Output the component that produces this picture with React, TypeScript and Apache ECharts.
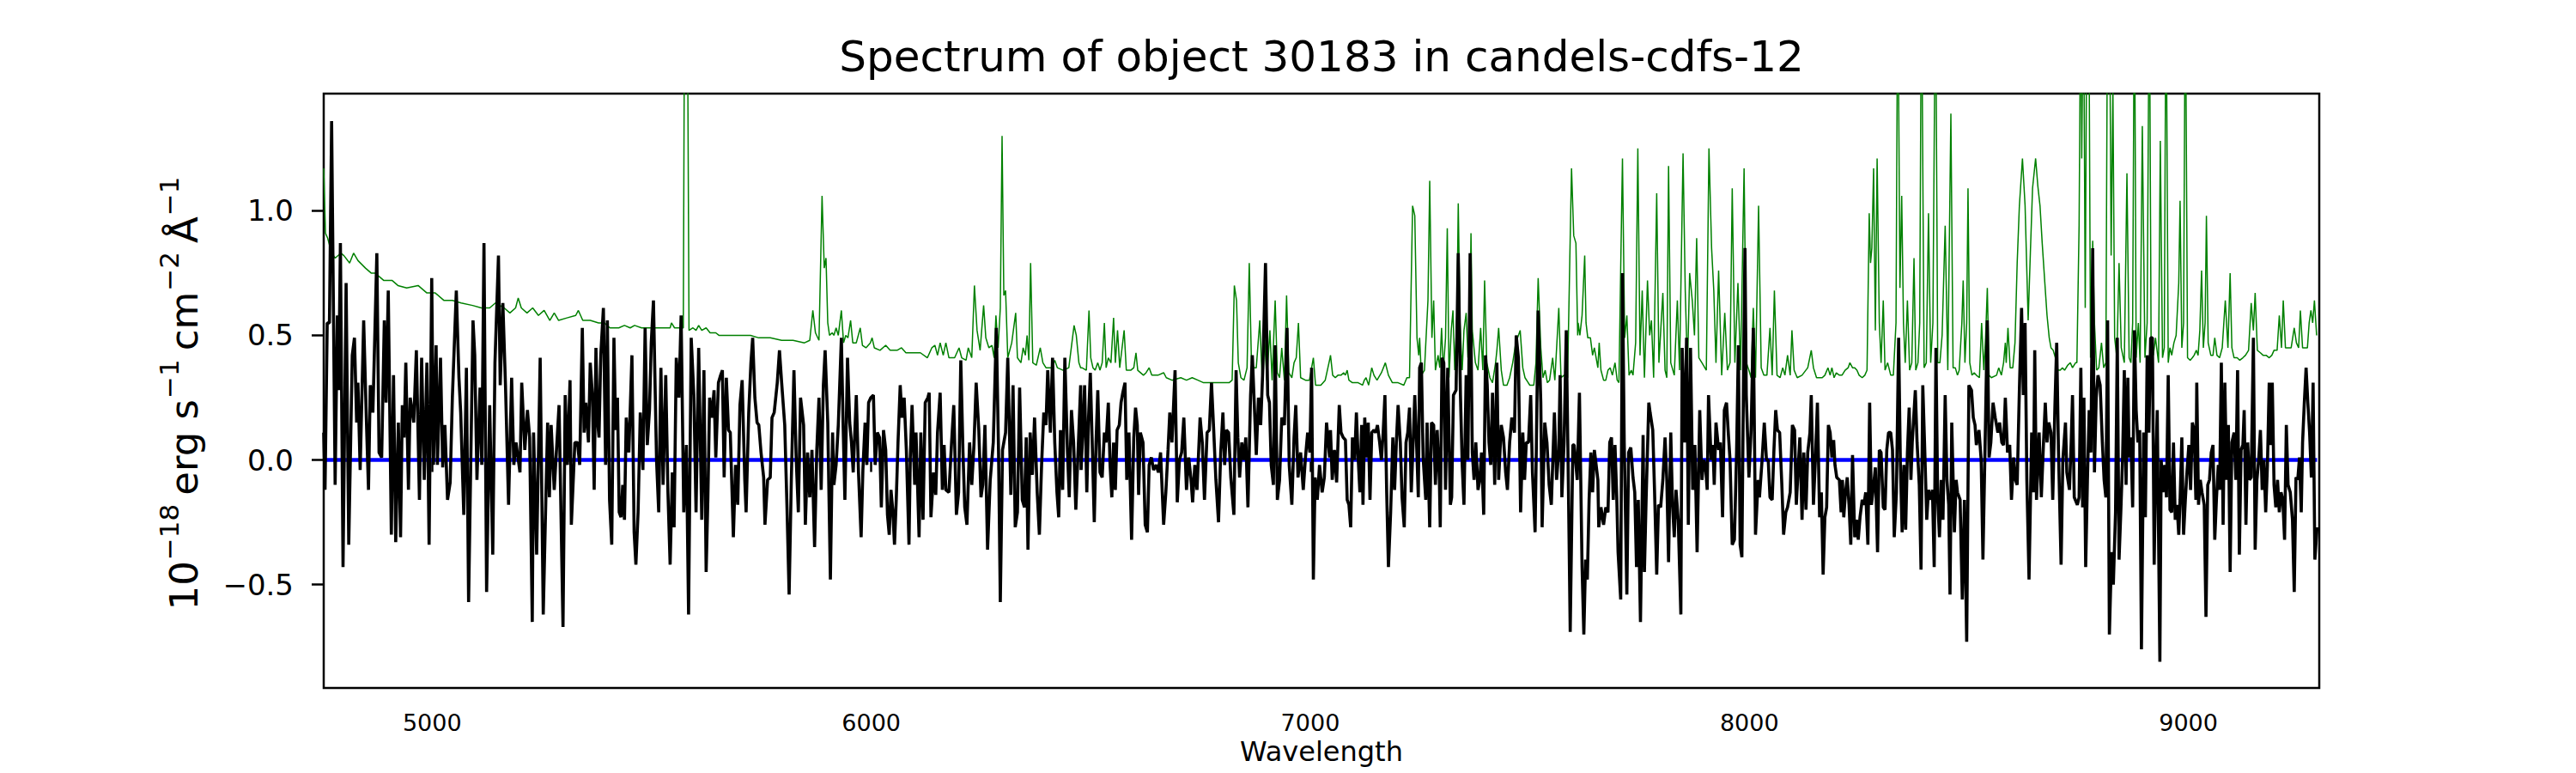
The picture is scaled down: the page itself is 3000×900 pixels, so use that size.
import React, { useEffect, useRef } from "react";
import * as echarts from "echarts";

// ---- data (wavelength in Å, flux in 1e-18 erg/s/cm2/Å) ----
const chartTitle = "Spectrum of object 30183 in candels-cdfs-12";
const xTicks = [5000, 6000, 7000, 8000, 9000];
const yTicks = [-0.5, 0, 0.5, 1.0];
const xRange = [4753, 9298];
const yRange = [-0.915, 1.47];
const zeroLine: [number, number][] = [[4753, 0], [9293, 0]];

const fluxSeg1: [number, number][] = [
  [4753, 0.11], [4756, -0.12], [4761, 0.55], [4766, 0.55], [4771, 1.36], [4779, -0.1], [4784, 0.58], [4787, 0.28], [4791, 0.87], [4797, -0.43],
  [4804, 0.71], [4810, -0.34], [4818, 0.42], [4823, 0.49], [4828, 0.15], [4831, 0.31], [4836, -0.04], [4844, 0.56], [4850, 0.17], [4855, -0.12],
  [4859, 0.3], [4865, 0.19], [4874, 0.83], [4879, 0.03], [4885, 0.01], [4891, 0.56], [4895, 0.23], [4900, 0.68], [4907, -0.3], [4912, 0.34],
  [4917, -0.33], [4923, 0.15], [4928, -0.31], [4932, 0.22], [4936, 0.09], [4940, 0.39], [4946, -0.12], [4950, 0.25], [4958, 0.15], [4964, 0.44],
  [4971, -0.16], [4976, 0.41], [4982, -0.08], [4988, 0.39], [4993, -0.34], [4999, 0.73], [5003, -0.02], [5009, 0.46], [5012, -0.02], [5019, 0.41],
  [5024, -0.03], [5029, 0.14], [5035, -0.16], [5041, -0.09], [5046, 0.25], [5055, 0.68], [5061, 0.33], [5065, 0.19], [5072, -0.22], [5078, 0.37],
  [5083, -0.57], [5088, 0.0], [5093, 0.56], [5097, 0.42], [5102, -0.08], [5109, 0.29], [5113, -0.02], [5118, 0.87], [5124, -0.53], [5131, 0.22],
  [5138, -0.38], [5143, 0.39], [5151, 0.82], [5155, 0.3], [5161, 0.63], [5167, 0.3], [5174, -0.18], [5181, 0.33], [5186, -0.02], [5191, 0.07],
  [5200, -0.05], [5204, 0.31], [5211, 0.04], [5217, 0.2], [5222, 0.09], [5228, -0.65], [5231, 0.11], [5238, -0.38], [5246, 0.41], [5253, -0.62],
  [5259, -0.15], [5263, 0.15], [5267, -0.15], [5271, 0.14], [5278, -0.12], [5289, 0.22], [5298, -0.67], [5303, 0.26], [5308, -0.02], [5314, 0.32],
  [5317, -0.26], [5325, 0.07], [5331, 0.07], [5336, -0.02], [5342, 0.53], [5346, 0.11],
];
const fluxSeg2: [number, number][] = [
  [5350, 0.23], [5356, 0.07], [5360, 0.39], [5365, 0.26], [5369, -0.12], [5373, 0.45], [5377, 0.15], [5380, 0.09], [5384, 0.42], [5390, 0.61],
  [5395, -0.02], [5399, 0.56], [5404, -0.16], [5409, -0.34], [5414, 0.49], [5418, 0.12], [5422, 0.25], [5426, -0.21], [5430, -0.23], [5434, -0.1],
  [5438, -0.24], [5442, 0.17], [5448, 0.03], [5455, 0.42], [5460, -0.29], [5464, -0.42], [5469, -0.21], [5474, 0.19], [5480, -0.04], [5485, 0.53],
  [5490, 0.06], [5495, 0.2], [5499, 0.47], [5504, 0.64], [5511, 0.0], [5516, -0.21], [5521, 0.37], [5526, -0.1], [5532, 0.34], [5537, -0.13],
  [5542, -0.42], [5547, -0.05], [5551, -0.27], [5556, 0.41], [5562, 0.25], [5567, 0.58], [5573, -0.21], [5579, 0.06], [5584, -0.62], [5590, 0.49],
  [5596, 0.26], [5601, -0.21], [5607, 0.45], [5614, -0.24], [5619, 0.36], [5624, -0.45], [5628, -0.15], [5632, 0.25], [5637, 0.17], [5642, 0.28],
  [5646, 0.01], [5652, 0.31], [5657, 0.34], [5661, 0.36], [5665, -0.07], [5670, 0.33], [5675, 0.12], [5679, 0.11], [5686, -0.31], [5691, -0.02],
  [5696, -0.18], [5701, 0.22], [5706, 0.32], [5712, -0.08], [5715, -0.21], [5721, 0.19], [5726, 0.39], [5730, 0.49], [5735, 0.25], [5740, 0.15],
  [5744, 0.14], [5749, 0.03], [5755, -0.07], [5758, -0.26], [5764, -0.08], [5770, -0.07], [5774, 0.17], [5779, 0.19], [5786, 0.31], [5791, 0.44],
  [5796, 0.31], [5803, 0.14], [5808, -0.18], [5813, -0.54], [5818, -0.08], [5824, 0.36], [5829, 0.01], [5834, -0.21], [5839, 0.25], [5846, 0.14],
  [5850, -0.26], [5855, 0.03], [5860, -0.15], [5865, 0.04], [5871, -0.35], [5876, 0.04], [5881, 0.25], [5886, -0.12], [5891, 0.3], [5895, 0.44],
  [5901, 0.15], [5907, -0.48], [5912, 0.11],
];
const fluxSeg3: [number, number][] = [
  [5915, -0.1], [5920, -0.02], [5925, 0.14], [5932, 0.49], [5936, 0.14], [5940, -0.16], [5946, 0.41], [5951, 0.15], [5955, 0.07], [5959, -0.05],
  [5966, 0.26], [5971, -0.05], [5977, -0.31], [5981, -0.04], [5986, 0.15], [5990, -0.02], [5994, 0.23], [5999, 0.25], [6005, 0.26], [6009, -0.02],
  [6014, 0.11], [6019, 0.09], [6023, -0.19], [6028, 0.12], [6033, 0.04], [6037, -0.22], [6041, -0.3], [6045, -0.12], [6049, -0.2], [6053, -0.34],
  [6057, -0.16], [6061, 0.07], [6066, 0.3], [6070, 0.17], [6075, 0.25], [6080, 0.04], [6086, -0.34], [6089, 0.01], [6093, 0.22], [6099, -0.1],
  [6102, 0.11], [6109, -0.31], [6113, 0.11], [6118, -0.24], [6123, 0.23], [6129, 0.25], [6132, 0.27], [6136, -0.23], [6142, -0.05], [6147, -0.14],
  [6151, 0.11], [6157, 0.27], [6162, -0.12], [6166, 0.06], [6170, -0.12], [6177, -0.13], [6183, 0.07], [6188, 0.22], [6194, -0.22], [6199, -0.13],
  [6204, 0.4], [6209, 0.03], [6213, -0.19], [6218, -0.26], [6224, 0.07], [6229, -0.1], [6234, 0.06], [6239, 0.31], [6245, 0.12], [6250, -0.15],
  [6254, -0.1], [6259, 0.14], [6265, -0.36], [6271, -0.08], [6278, 0.07], [6285, 0.53], [6290, 0.03], [6294, -0.57], [6299, 0.04], [6306, 0.11],
  [6311, 0.41], [6318, -0.14], [6323, 0.3], [6328, -0.27], [6333, -0.21], [6338, 0.29], [6344, -0.16], [6349, -0.19], [6353, 0.09], [6357, -0.36],
  [6362, 0.11], [6367, -0.06], [6372, 0.17], [6378, -0.13], [6383, -0.3], [6388, -0.02], [6393, 0.19], [6398, 0.14], [6402, 0.36], [6408, 0.11],
  [6413, 0.41], [6418, 0.07], [6423, -0.13], [6427, -0.23], [6431, 0.12], [6436, -0.12], [6441, 0.41], [6447, 0.03], [6451, -0.15], [6456, 0.2],
  [6461, 0.07], [6466, -0.2], [6471, 0.03], [6477, 0.3],
];
const fluxSeg4: [number, number][] = [
  [6478, -0.04], [6482, 0.12], [6486, 0.3], [6491, -0.13], [6495, 0.17], [6499, 0.35], [6503, 0.09], [6508, -0.25], [6512, 0.07], [6516, 0.28],
  [6521, -0.05], [6526, -0.07], [6531, 0.11], [6535, 0.07], [6540, 0.23], [6544, -0.02], [6548, -0.15], [6552, 0.07], [6556, -0.12], [6560, 0.12],
  [6565, 0.14], [6569, 0.23], [6573, 0.27], [6578, 0.31], [6582, -0.08], [6587, 0.11], [6593, -0.32], [6598, 0.09], [6602, 0.21], [6606, 0.14],
  [6609, -0.14], [6613, 0.11], [6619, 0.07], [6624, -0.26], [6629, -0.29], [6633, -0.02], [6638, 0.01], [6643, -0.04], [6649, -0.02], [6654, -0.05],
  [6659, 0.03], [6666, -0.26], [6671, -0.13], [6676, 0.04], [6680, 0.19], [6685, 0.07], [6692, 0.36], [6697, -0.17], [6702, 0.0], [6707, 0.03],
  [6712, 0.17], [6718, -0.12], [6723, 0.01], [6728, -0.07], [6732, -0.17], [6737, -0.02], [6742, -0.12], [6749, 0.17], [6754, 0.07], [6759, -0.16],
  [6765, 0.11], [6770, 0.12], [6775, 0.31], [6780, 0.12], [6785, -0.08], [6791, -0.25], [6796, 0.03], [6801, 0.19], [6805, -0.02], [6809, 0.12],
  [6814, 0.11], [6819, -0.07], [6826, -0.22], [6831, 0.36], [6835, 0.09], [6839, -0.07], [6844, 0.07], [6849, 0.0], [6853, 0.09], [6858, -0.19],
  [6864, 0.26], [6868, 0.42], [6873, 0.2], [6877, 0.02], [6882, 0.25], [6887, 0.14], [6892, 0.37], [6898, 0.79], [6903, 0.26], [6907, 0.23],
  [6911, -0.02], [6916, -0.1], [6920, 0.46], [6925, -0.16], [6930, -0.08], [6935, 0.17], [6941, 0.14], [6947, 0.53], [6952, -0.02], [6958, -0.18],
  [6963, 0.09], [6967, 0.22], [6972, -0.07], [6978, 0.03], [6984, -0.12], [6989, 0.01], [6994, 0.11], [6999, 0.03], [7003, 0.37], [7007, -0.48],
  [7011, -0.07], [7016, -0.16], [7021, -0.02], [7027, -0.13], [7032, -0.07], [7037, 0.15], [7044, 0.01],
];
const fluxSeg5: [number, number][] = [
  [7046, 0.12], [7050, -0.08], [7055, 0.04], [7060, -0.09], [7066, 0.22], [7070, 0.11], [7075, 0.09], [7080, 0.08], [7084, -0.16], [7088, -0.18],
  [7092, -0.27], [7096, 0.09], [7101, 0.0], [7105, 0.19], [7109, 0.01], [7113, -0.13], [7117, 0.14], [7120, -0.18], [7124, 0.17], [7128, 0.01],
  [7132, 0.15], [7136, -0.16], [7140, 0.11], [7145, 0.12], [7149, 0.11], [7153, 0.14], [7158, 0.07], [7162, 0.0], [7166, 0.11], [7170, 0.26],
  [7174, -0.13], [7178, -0.43], [7183, -0.21], [7188, 0.09], [7192, -0.12], [7196, 0.07], [7200, 0.22], [7205, 0.07], [7209, -0.15], [7214, -0.27],
  [7218, 0.07], [7222, 0.11], [7226, 0.21], [7230, -0.13], [7234, 0.06], [7238, 0.26], [7242, 0.07], [7246, -0.15], [7249, 0.37], [7253, 0.39],
  [7257, 0.01], [7263, -0.16], [7266, 0.15], [7272, -0.27], [7276, 0.15], [7281, 0.14], [7285, -0.1], [7289, 0.12], [7294, -0.08], [7296, -0.27],
  [7300, 0.41], [7304, 0.39], [7308, -0.12], [7313, 0.37], [7319, -0.18], [7322, -0.15], [7326, 0.26], [7332, 0.28], [7337, 0.83], [7342, 0.26],
  [7346, -0.02], [7350, -0.18], [7355, 0.34], [7359, 0.0], [7364, 0.83], [7369, 0.03], [7373, -0.08], [7377, 0.07], [7382, -0.12], [7386, -0.08],
  [7390, 0.03], [7395, -0.22], [7399, 0.42], [7403, 0.3], [7407, 0.07], [7411, -0.02], [7415, 0.27], [7420, -0.1], [7425, 0.39], [7429, -0.08],
  [7435, 0.14], [7440, 0.09], [7445, -0.05], [7449, -0.12], [7454, 0.07], [7459, 0.17], [7465, 0.11], [7469, 0.5], [7474, 0.41], [7479, -0.21],
  [7484, 0.11], [7488, -0.08], [7492, 0.07], [7497, 0.07], [7502, 0.26], [7506, -0.05], [7512, -0.29], [7515, 0.07], [7519, 0.6], [7525, 0.23],
  [7528, -0.27], [7534, 0.15], [7539, 0.07], [7544, -0.1], [7549, -0.18], [7556, 0.19], [7561, -0.08], [7566, 0.04], [7569, 0.34], [7573, -0.15],
  [7578, 0.07], [7583, 0.52], [7588, -0.12], [7592, -0.69], [7598, 0.06], [7601, 0.06], [7608, -0.08], [7613, 0.27],
];
const fluxSeg6: [number, number][] = [
  [7619, -0.43], [7623, -0.7], [7627, -0.4], [7631, -0.48], [7635, -0.16], [7639, 0.03], [7643, -0.13], [7647, 0.04], [7651, -0.02], [7655, -0.08],
  [7657, -0.27], [7662, -0.19], [7668, -0.26], [7673, -0.19], [7678, -0.21], [7682, 0.07], [7686, 0.09], [7690, -0.16], [7694, 0.06], [7698, -0.15],
  [7701, -0.37], [7707, -0.56], [7711, 0.75], [7715, 0.07], [7721, -0.54], [7725, 0.03], [7730, 0.05], [7735, -0.07], [7739, -0.13], [7743, -0.43],
  [7747, -0.16], [7752, -0.65], [7758, 0.1], [7761, -0.45], [7765, -0.15], [7771, 0.23], [7774, 0.19], [7780, 0.12], [7784, -0.12], [7789, -0.46],
  [7793, -0.18], [7798, -0.19], [7803, -0.08], [7808, 0.09], [7812, -0.08], [7816, -0.41], [7821, 0.11], [7825, -0.18], [7829, -0.31], [7833, -0.12],
  [7838, -0.24], [7844, -0.62], [7847, 0.45], [7853, 0.07], [7857, 0.49], [7861, -0.26], [7866, 0.45], [7871, -0.12], [7876, 0.06], [7881, -0.37],
  [7887, 0.2], [7892, -0.08], [7896, 0.0], [7900, -0.02], [7904, -0.12], [7907, 0.26], [7913, 0.0], [7917, 0.06], [7920, -0.1], [7924, 0.15],
  [7930, 0.04], [7934, 0.07], [7939, -0.23], [7943, 0.2], [7948, 0.23], [7952, 0.11], [7956, 0.0], [7961, -0.34], [7966, -0.32], [7971, 0.04],
  [7975, 0.46], [7979, -0.34], [7983, -0.39], [7987, 0.39], [7990, 0.85], [7993, 0.26], [7999, -0.07], [8004, 0.12], [8009, 0.53], [8014, -0.3],
  [8020, -0.08], [8023, -0.15], [8029, 0.0], [8034, 0.15], [8039, 0.0], [8043, 0.0], [8047, -0.15], [8052, -0.16], [8056, 0.04], [8060, 0.2],
  [8064, 0.12], [8069, 0.11], [8074, -0.1], [8078, -0.3], [8083, -0.21], [8087, -0.19], [8093, -0.13], [8098, 0.14], [8103, 0.12], [8107, -0.18],
  [8111, -0.04], [8115, 0.09], [8120, -0.24], [8124, 0.03], [8129, -0.2], [8133, 0.03], [8138, 0.11], [8141, 0.26], [8146, -0.18], [8151, 0.03],
  [8155, 0.23], [8160, -0.23], [8164, -0.13], [8168, -0.46], [8172, -0.23],
];
const fluxSeg7: [number, number][] = [
  [8176, -0.19], [8180, 0.14], [8184, 0.11], [8188, 0.01], [8192, 0.08], [8195, -0.02], [8199, -0.07], [8205, -0.08], [8209, -0.21], [8212, -0.08],
  [8215, -0.23], [8219, -0.13], [8223, -0.07], [8227, -0.18], [8231, -0.34], [8235, 0.02], [8240, -0.31], [8244, -0.24], [8248, -0.32], [8252, -0.23],
  [8257, -0.16], [8261, -0.18], [8265, -0.13], [8270, -0.34], [8274, 0.23], [8278, -0.18], [8282, -0.12], [8287, -0.03], [8292, -0.37], [8296, 0.04],
  [8300, 0.03], [8305, -0.19], [8309, -0.2], [8313, 0.04], [8317, 0.11], [8322, 0.11], [8326, 0.04], [8330, -0.31], [8335, -0.13], [8340, 0.49],
  [8344, -0.02], [8348, -0.29], [8352, -0.02], [8356, -0.28], [8360, 0.03], [8364, 0.21], [8368, -0.08], [8371, 0.07], [8378, 0.28], [8382, 0.07],
  [8387, -0.1], [8391, -0.44], [8395, 0.3], [8400, 0.01], [8404, -0.24], [8408, -0.12], [8413, -0.16], [8417, -0.12], [8421, -0.43], [8425, 0.45],
  [8429, -0.16], [8433, -0.31], [8437, -0.08], [8441, -0.24], [8446, 0.26], [8450, -0.08], [8454, -0.18], [8457, -0.54], [8461, 0.15], [8467, -0.29],
  [8471, -0.08], [8474, -0.13], [8480, -0.16], [8485, -0.56], [8490, -0.16], [8495, -0.73], [8500, 0.3], [8506, 0.28], [8510, 0.17], [8514, 0.14],
  [8517, 0.06], [8523, 0.12], [8528, 0.0], [8532, -0.4], [8537, 0.07], [8542, 0.56], [8546, 0.01], [8550, 0.07], [8555, 0.23], [8560, 0.17],
  [8566, 0.11], [8570, 0.15], [8575, 0.07], [8579, 0.06], [8583, 0.25], [8588, 0.03], [8593, 0.06], [8597, -0.16], [8602, 0.01], [8606, -0.08],
  [8610, -0.1], [8615, 0.28], [8620, 0.61], [8624, 0.26], [8628, 0.55], [8632, -0.08], [8637, -0.48], [8643, 0.11], [8647, -0.13], [8650, 0.44],
  [8654, -0.16], [8660, 0.11], [8665, -0.15], [8670, 0.07], [8674, 0.23], [8678, 0.07], [8682, 0.15], [8687, 0.11], [8691, -0.16], [8696, 0.22],
  [8700, 0.47], [8704, 0.04], [8710, -0.42], [8714, 0.0], [8720, 0.15], [8723, -0.05], [8729, -0.12], [8733, 0.07], [8736, 0.26], [8740, -0.15],
];
const fluxSeg8: [number, number][] = [
  [8747, -0.18], [8751, -0.15], [8755, 0.37], [8759, -0.19], [8762, 0.25], [8766, -0.43], [8770, -0.08], [8774, 0.2], [8778, 0.03], [8782, 0.85],
  [8786, -0.05], [8790, 0.25], [8794, 0.34], [8799, 0.3], [8804, 0.07], [8808, -0.08], [8812, -0.15], [8816, 0.56], [8820, -0.7], [8825, -0.37],
  [8829, -0.5], [8834, -0.21], [8838, 0.49], [8842, -0.4], [8846, -0.21], [8850, 0.0], [8854, 0.36], [8858, -0.1], [8862, 0.33], [8865, 0.01],
  [8869, 0.09], [8873, -0.19], [8877, 0.52], [8881, 0.2], [8885, 0.07], [8889, 0.12], [8893, -0.76], [8898, 0.11], [8902, -0.23], [8906, 0.42],
  [8910, 0.11], [8914, 0.49], [8918, 0.49], [8922, -0.42], [8925, -0.08], [8929, 0.2], [8935, -0.81], [8938, 0.0], [8942, -0.13], [8946, -0.02],
  [8950, -0.15], [8954, 0.34], [8958, -0.2], [8962, -0.21], [8966, 0.07], [8970, -0.24], [8974, -0.18], [8978, -0.3], [8981, -0.16], [8985, 0.09],
  [8989, -0.3], [8993, -0.16], [8997, -0.04], [9001, 0.06], [9005, -0.12], [9009, 0.15], [9013, 0.12], [9017, -0.16], [9019, 0.31], [9023, -0.18],
  [9027, -0.08], [9031, -0.13], [9036, -0.18], [9040, -0.63], [9044, -0.1], [9048, -0.08], [9052, 0.03], [9056, 0.06], [9060, -0.32], [9064, -0.15],
  [9068, -0.02], [9071, -0.12], [9075, 0.39], [9079, -0.26], [9083, 0.31], [9087, -0.08], [9091, 0.14], [9095, -0.45], [9099, 0.07], [9104, 0.11],
  [9108, -0.08], [9112, 0.36], [9116, -0.38], [9120, 0.04], [9124, 0.06], [9127, 0.2], [9131, -0.26], [9135, 0.07], [9139, -0.08], [9143, -0.07],
  [9148, 0.49], [9152, -0.36], [9156, -0.08], [9160, 0.0], [9164, 0.12], [9168, -0.12], [9172, 0.0], [9176, -0.21], [9180, -0.02], [9184, 0.31],
  [9187, 0.06], [9191, 0.31], [9195, -0.1], [9199, -0.19], [9203, -0.08], [9207, -0.21], [9211, -0.13], [9215, -0.16], [9219, -0.32], [9223, 0.14],
  [9227, -0.1], [9232, -0.13], [9237, -0.24], [9241, -0.53], [9245, -0.07], [9249, -0.08], [9253, 0.01], [9257, -0.21], [9260, 0.07], [9264, 0.23],
  [9268, 0.37], [9272, 0.23], [9276, 0.11], [9280, -0.07], [9284, 0.31], [9288, -0.4], [9293, -0.27],
];

const errSeg1: [number, number][] = [
  [4753, 1.17], [4757, 0.91], [4762, 0.89], [4771, 0.83], [4779, 0.81], [4792, 0.83], [4799, 0.82], [4812, 0.79], [4821, 0.83], [4831, 0.8],
  [4848, 0.77], [4861, 0.75], [4870, 0.75], [4890, 0.72], [4909, 0.72], [4922, 0.7], [4942, 0.69], [4968, 0.7], [4988, 0.67], [5007, 0.67],
  [5027, 0.64], [5046, 0.64], [5066, 0.63], [5092, 0.62], [5112, 0.61], [5131, 0.61], [5144, 0.63], [5164, 0.61], [5177, 0.59], [5190, 0.61],
  [5196, 0.65], [5203, 0.61], [5216, 0.59], [5229, 0.61], [5242, 0.58], [5255, 0.6], [5268, 0.56], [5278, 0.59], [5288, 0.56], [5307, 0.57],
  [5327, 0.58], [5333, 0.6], [5343, 0.56],
];
const errSeg2: [number, number][] = [
  [5360, 0.56], [5379, 0.55], [5392, 0.55], [5405, 0.53], [5425, 0.53], [5438, 0.54], [5451, 0.53], [5461, 0.54], [5477, 0.53], [5496, 0.53],
  [5523, 0.53], [5542, 0.53], [5545, 0.55], [5552, 0.53], [5572, 0.53], [5575, 2.0], [5581, 2.0], [5585, 0.52], [5594, 0.53], [5601, 0.52],
  [5607, 0.54], [5614, 0.52], [5624, 0.53], [5633, 0.51], [5646, 0.51], [5653, 0.5], [5666, 0.5], [5685, 0.5], [5705, 0.5], [5725, 0.5],
  [5744, 0.49], [5770, 0.49], [5796, 0.48], [5822, 0.48], [5848, 0.47], [5860, 0.48], [5867, 0.6], [5873, 0.51], [5881, 0.48], [5888, 1.06],
  [5893, 0.77], [5897, 0.81], [5901, 0.55], [5905, 0.5], [5911, 0.51],
];
const errSeg3: [number, number][] = [
  [5915, 0.5], [5920, 0.53], [5925, 0.5], [5932, 0.6], [5937, 0.47], [5942, 0.5], [5947, 0.49], [5953, 0.56], [5958, 0.47], [5966, 0.47],
  [5975, 0.53], [5980, 0.46], [5988, 0.45], [5998, 0.47], [6002, 0.49], [6007, 0.45], [6020, 0.44], [6033, 0.46], [6043, 0.44], [6059, 0.44],
  [6069, 0.45], [6079, 0.43], [6099, 0.43], [6112, 0.43], [6128, 0.41], [6138, 0.45], [6145, 0.46], [6151, 0.42], [6157, 0.47], [6164, 0.42],
  [6170, 0.47], [6177, 0.41], [6190, 0.41], [6200, 0.45], [6206, 0.41], [6216, 0.4], [6221, 0.45], [6229, 0.41], [6235, 0.7], [6241, 0.52],
  [6248, 0.44], [6256, 0.62], [6261, 0.49], [6268, 0.45], [6275, 0.46], [6280, 0.41], [6284, 0.58], [6289, 0.45], [6294, 0.61], [6298, 1.3],
  [6302, 0.66], [6306, 0.68], [6311, 0.41], [6320, 0.47], [6329, 0.59], [6333, 0.41], [6341, 0.39], [6346, 0.45], [6351, 0.42], [6355, 0.5],
  [6359, 0.4], [6363, 0.79], [6368, 0.39], [6376, 0.38], [6385, 0.45], [6391, 0.39], [6398, 0.37], [6411, 0.37], [6418, 0.4], [6424, 0.37],
  [6437, 0.36], [6450, 0.37], [6462, 0.54], [6467, 0.5], [6473, 0.39], [6477, 0.37],
];
const errSeg4: [number, number][] = [
  [6480, 0.37], [6490, 0.36], [6496, 0.6], [6500, 0.41], [6505, 0.37], [6510, 0.36], [6516, 0.39], [6521, 0.36], [6526, 0.39], [6531, 0.55],
  [6535, 0.37], [6540, 0.41], [6546, 0.39], [6552, 0.57], [6556, 0.39], [6561, 0.52], [6566, 0.37], [6576, 0.52], [6581, 0.36], [6591, 0.36],
  [6598, 0.37], [6603, 0.43], [6607, 0.36], [6620, 0.34], [6626, 0.35], [6633, 0.37], [6639, 0.34], [6653, 0.34], [6666, 0.35], [6672, 0.33],
  [6685, 0.32], [6705, 0.33], [6718, 0.32], [6731, 0.33], [6744, 0.32], [6757, 0.31], [6776, 0.31], [6796, 0.31], [6815, 0.31], [6822, 0.32],
  [6827, 0.7], [6832, 0.64], [6836, 0.39], [6842, 0.33], [6849, 0.32], [6856, 0.37], [6861, 0.79], [6866, 0.39], [6872, 0.37], [6877, 0.37],
  [6885, 0.56], [6890, 0.34], [6895, 0.52], [6901, 0.32], [6908, 0.52], [6913, 0.32], [6920, 0.64], [6925, 0.35], [6930, 0.33], [6935, 0.45],
  [6941, 0.32], [6946, 0.66], [6951, 0.35], [6958, 0.33], [6963, 0.39], [6968, 0.41], [6973, 0.55], [6978, 0.33], [6989, 0.32], [6998, 0.32],
  [7007, 0.41], [7012, 0.3], [7024, 0.3], [7034, 0.32], [7045, 0.41],
];
const errSeg5: [number, number][] = [
  [7046, 0.42], [7051, 0.34], [7057, 0.33], [7063, 0.34], [7070, 0.34], [7076, 0.35], [7080, 0.34], [7084, 0.36], [7088, 0.32], [7096, 0.31],
  [7102, 0.31], [7109, 0.31], [7119, 0.3], [7123, 0.32], [7127, 0.33], [7133, 0.3], [7140, 0.37], [7145, 0.34], [7152, 0.32], [7162, 0.35],
  [7171, 0.39], [7178, 0.34], [7187, 0.31], [7200, 0.31], [7213, 0.3], [7220, 0.33], [7226, 0.33], [7233, 1.02], [7238, 0.98], [7243, 0.49],
  [7247, 0.42], [7249, 0.49], [7253, 0.34], [7260, 0.36], [7268, 0.64], [7272, 1.12], [7277, 0.49], [7281, 0.64], [7285, 0.36], [7291, 0.42],
  [7295, 0.37], [7299, 0.53], [7303, 0.36], [7308, 0.49], [7312, 0.93], [7316, 0.33], [7321, 0.52], [7325, 0.6], [7329, 0.36], [7334, 0.58],
  [7337, 1.03], [7341, 0.55], [7346, 0.36], [7350, 0.52], [7355, 0.59], [7359, 0.41], [7363, 0.47], [7366, 0.91], [7369, 0.52], [7376, 0.39],
  [7382, 0.36], [7388, 0.53], [7393, 0.36], [7397, 0.72], [7402, 0.39], [7409, 0.33], [7415, 0.31], [7422, 0.39], [7425, 0.44], [7429, 0.53],
  [7435, 0.36], [7440, 0.3], [7448, 0.3], [7454, 0.33], [7461, 0.39], [7468, 0.47], [7478, 0.52], [7484, 0.37], [7489, 0.33], [7500, 0.3],
  [7509, 0.3], [7514, 0.39], [7519, 0.73], [7525, 0.45], [7530, 0.33], [7535, 0.36], [7540, 0.31], [7545, 0.32], [7552, 0.41], [7557, 0.32],
  [7566, 0.61], [7571, 0.33], [7578, 0.34], [7586, 0.33], [7591, 0.8], [7595, 1.17], [7600, 0.9], [7605, 0.87], [7609, 0.5],
];
const errSeg6: [number, number][] = [
  [7610, 0.55], [7614, 0.5], [7619, 0.58], [7625, 0.82], [7628, 0.55], [7632, 0.49], [7638, 0.49], [7643, 0.42], [7647, 0.45], [7651, 0.41],
  [7655, 0.37], [7658, 0.47], [7662, 0.36], [7668, 0.32], [7673, 0.32], [7678, 0.36], [7683, 0.37], [7688, 0.34], [7694, 0.39], [7699, 0.32],
  [7703, 0.31], [7707, 0.77], [7711, 1.21], [7716, 0.49], [7721, 0.58], [7726, 0.34], [7731, 0.36], [7735, 0.34], [7741, 0.47], [7746, 1.25],
  [7751, 0.42], [7756, 0.68], [7761, 0.33], [7768, 0.72], [7773, 0.5], [7777, 0.56], [7782, 0.33], [7789, 1.07], [7794, 0.39], [7803, 0.67],
  [7808, 0.36], [7812, 0.33], [7816, 1.18], [7821, 0.39], [7829, 0.34], [7836, 0.64], [7841, 0.36], [7849, 1.23], [7854, 0.68], [7859, 0.36],
  [7864, 0.75], [7870, 0.64], [7875, 0.5], [7880, 0.89], [7885, 0.41], [7892, 0.39], [7902, 0.36], [7908, 1.25], [7914, 0.85], [7919, 0.68],
  [7924, 0.39], [7930, 0.76], [7937, 0.34], [7944, 0.59], [7950, 0.36], [7956, 0.39], [7961, 1.09], [7967, 0.39], [7974, 0.71], [7980, 0.36],
  [7988, 1.17], [7993, 0.39], [7999, 0.36], [8004, 0.33], [8009, 0.61], [8014, 0.33], [8021, 1.02], [8027, 0.37], [8033, 0.34], [8040, 0.34],
  [8047, 0.53], [8052, 0.34], [8057, 0.68], [8063, 0.34], [8070, 0.33], [8076, 0.37], [8081, 0.34], [8087, 0.42], [8093, 0.34], [8097, 0.52],
  [8102, 0.36], [8109, 0.33], [8120, 0.34], [8133, 0.37], [8141, 0.44], [8146, 0.37], [8153, 0.33], [8166, 0.33],
];
const errSeg7: [number, number][] = [
  [8172, 0.34], [8179, 0.37], [8184, 0.34], [8188, 0.37], [8193, 0.33], [8198, 0.35], [8205, 0.34], [8211, 0.34], [8218, 0.36], [8225, 0.37],
  [8229, 0.39], [8235, 0.37], [8240, 0.37], [8245, 0.36], [8250, 0.34], [8257, 0.33], [8263, 0.34], [8268, 0.36], [8273, 0.99], [8276, 0.79],
  [8279, 0.85], [8283, 1.17], [8287, 0.52], [8291, 1.21], [8296, 0.55], [8300, 0.39], [8305, 0.64], [8309, 0.36], [8315, 0.39], [8322, 0.34],
  [8328, 0.34], [8334, 0.55], [8338, 2.0], [8343, 0.69], [8347, 1.06], [8351, 0.55], [8355, 0.39], [8360, 0.64], [8365, 0.36], [8370, 0.39],
  [8375, 0.81], [8379, 0.36], [8384, 0.39], [8388, 0.55], [8392, 2.0], [8398, 0.37], [8403, 0.39], [8408, 0.99], [8413, 0.39], [8418, 0.55],
  [8424, 2.0], [8429, 0.39], [8434, 0.39], [8439, 0.5], [8446, 0.94], [8452, 0.36], [8459, 1.39], [8464, 0.37], [8469, 0.37], [8474, 0.34],
  [8478, 0.36], [8484, 0.55], [8487, 0.72], [8491, 0.39], [8495, 0.55], [8498, 1.09], [8502, 0.39], [8507, 0.34], [8512, 0.35], [8517, 0.34],
  [8524, 0.33], [8529, 0.55], [8534, 0.36], [8538, 0.49], [8542, 0.69], [8546, 0.34], [8551, 0.33], [8563, 0.34], [8568, 0.37], [8574, 0.34],
  [8579, 0.39], [8583, 0.47], [8585, 0.39], [8589, 0.53], [8594, 0.37], [8600, 0.37], [8605, 0.47], [8610, 0.79], [8615, 1.02], [8622, 1.21],
  [8628, 1.02], [8635, 0.56], [8640, 0.83], [8645, 1.09], [8652, 1.21], [8657, 1.1], [8662, 1.02], [8667, 0.87], [8673, 0.71], [8678, 0.58],
  [8683, 0.49], [8687, 0.45], [8692, 0.44], [8697, 0.41], [8703, 0.36], [8708, 0.36], [8713, 0.37], [8718, 0.36], [8725, 0.38], [8731, 0.39],
  [8736, 0.37], [8743, 0.39],
];
const errSeg8: [number, number][] = [
  [8746, 0.39], [8751, 0.94], [8755, 2.0], [8757, 1.21], [8761, 2.0], [8765, 0.61], [8769, 2.0], [8773, 2.0], [8777, 0.41], [8782, 0.88],
  [8786, 0.55], [8791, 0.36], [8796, 0.37], [8802, 0.47], [8807, 0.37], [8812, 0.39], [8816, 2.0], [8820, 2.0], [8824, 0.82], [8828, 1.5],
  [8832, 0.49], [8837, 0.41], [8842, 0.79], [8847, 0.45], [8854, 0.39], [8860, 1.15], [8865, 0.41], [8869, 0.39], [8873, 0.55], [8877, 2.0],
  [8881, 0.41], [8886, 0.55], [8890, 0.39], [8895, 1.34], [8901, 0.41], [8906, 0.55], [8911, 2.0], [8915, 0.47], [8920, 0.42], [8925, 0.49],
  [8932, 0.39], [8936, 1.28], [8941, 0.41], [8945, 0.45], [8949, 2.0], [8954, 0.39], [8958, 0.45], [8962, 0.42], [8967, 0.47], [8972, 0.5],
  [8978, 0.71], [8981, 1.04], [8985, 0.45], [8989, 0.55], [8993, 2.0], [8998, 0.41], [9004, 0.4], [9009, 0.41], [9013, 0.42], [9018, 0.44],
  [9022, 0.42], [9026, 0.52], [9030, 0.76], [9034, 0.45], [9038, 0.55], [9041, 0.98], [9045, 0.47], [9051, 0.42], [9056, 0.42], [9060, 0.49],
  [9065, 0.42], [9071, 0.41], [9077, 0.45], [9084, 0.64], [9090, 0.45], [9095, 0.75], [9099, 0.45], [9104, 0.41], [9111, 0.41], [9117, 0.4],
  [9124, 0.41], [9130, 0.42], [9137, 0.44], [9143, 0.63], [9148, 0.52], [9152, 0.67], [9157, 0.44], [9164, 0.43], [9170, 0.42], [9177, 0.42],
  [9184, 0.41], [9190, 0.42], [9195, 0.44], [9202, 0.44], [9207, 0.58], [9212, 0.45], [9216, 0.64], [9221, 0.45], [9228, 0.45], [9234, 0.45],
  [9241, 0.53], [9246, 0.47], [9251, 0.45], [9255, 0.6], [9260, 0.45], [9266, 0.45], [9271, 0.45], [9275, 0.55], [9279, 0.6], [9283, 0.55],
  [9287, 0.64], [9292, 0.5],
];

const FONT = "DejaVu Sans";

export default function App() {
  const ref = useRef<HTMLDivElement>(null);
  useEffect(() => {
    if (!ref.current) return;
    const chart = echarts.init(ref.current, null, { renderer: "svg" });
    const flux = [...fluxSeg1, ...fluxSeg2, ...fluxSeg3, ...fluxSeg4, ...fluxSeg5, ...fluxSeg6, ...fluxSeg7, ...fluxSeg8];
    const err = [...errSeg1, ...errSeg2, ...errSeg3, ...errSeg4, ...errSeg5, ...errSeg6, ...errSeg7, ...errSeg8];
    const fmtY = (v: number) => (v < 0 ? "\u2212" : "") + Math.abs(v).toFixed(1);
    chart.setOption({
      animation: false,
      backgroundColor: "#ffffff",
      grid: {
        left: 377, right: 299, top: 109, bottom: 99,
        show: true, borderColor: "#000", borderWidth: 2.5, backgroundColor: "transparent",
      },
      xAxis: {
        type: "value", min: xRange[0], max: xRange[1],
        axisLine: { show: false },
        splitLine: { show: false },
        axisTick: { show: true, length: 14, lineStyle: { color: "#000", width: 2.5 }, customValues: xTicks },
        axisLabel: {
          customValues: xTicks, color: "#000", fontFamily: FONT, fontSize: 27, margin: 27,
          formatter: (v: number) => String(v),
        },
      },
      yAxis: {
        type: "value", min: yRange[0], max: yRange[1],
        axisLine: { show: false },
        splitLine: { show: false },
        axisTick: { show: true, length: 14, lineStyle: { color: "#000", width: 2.5 }, customValues: yTicks },
        axisLabel: {
          customValues: yTicks, color: "#000", fontFamily: FONT, fontSize: 34, margin: 35,
          formatter: (v: number) => fmtY(v),
        },
      },
      graphic: [
        {
          type: "text", x: 1539, y: 66, silent: true,
          style: { text: chartTitle, font: `50px "${FONT}"`, fill: "#000", textAlign: "center", textVerticalAlign: "middle", align: "center", verticalAlign: "middle" },
        },
        {
          type: "text", x: 1539, y: 875, silent: true,
          style: { text: "Wavelength", font: `32px "${FONT}"`, fill: "#000", textAlign: "center", textVerticalAlign: "middle", align: "center", verticalAlign: "middle" },
        },
        {
          type: "text", x: 209, y: 453, rotation: Math.PI / 2, silent: true,
          style: {
            text: "{b|10}{s|\u221218}{b|erg s}{s|\u22121}{b|cm}{s|\u22122}{b|\u00c5}{s|\u22121}",
            fill: "#000", textAlign: "center", textVerticalAlign: "middle", align: "center", verticalAlign: "middle",
            rich: {
              b: { fontFamily: FONT, fontSize: 45, lineHeight: 56, verticalAlign: "bottom", fill: "#000" },
              s: { fontFamily: FONT, fontSize: 31, lineHeight: 31, verticalAlign: "top", fill: "#000", padding: [0, 10, 0, 1] },
            },
          },
        },
      ],
      series: [
        {
          type: "line", data: zeroLine, symbol: "none", silent: true, z: 2,
          lineStyle: { color: "#0000ff", width: 4.5 },
        },
        {
          type: "line", data: err, symbol: "none", silent: true, z: 3, clip: true,
          lineStyle: { color: "#008000", width: 1.5 },
        },
        {
          type: "line", data: flux, symbol: "none", silent: true, z: 4, clip: true,
          lineStyle: { color: "#000000", width: 3.6 },
        },
      ],
    });
    return () => chart.dispose();
  }, []);
  return (
    <div
      ref={ref}
      style={{ position: "fixed", left: 0, top: 0, width: 3000, height: 900, background: "#fff" }}
    />
  );
}
